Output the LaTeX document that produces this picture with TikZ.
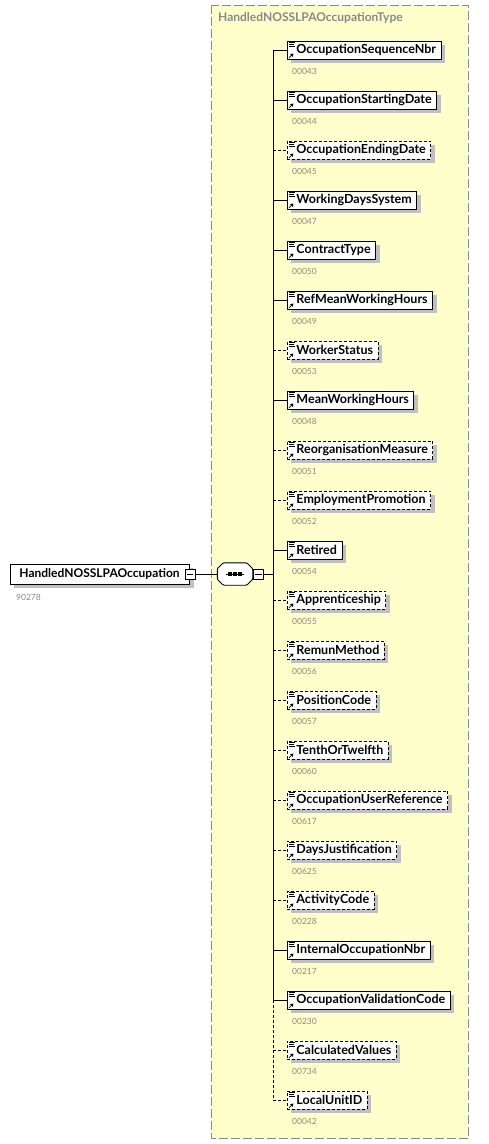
\documentclass[tikz,border=0pt]{standalone}
\usepackage{fontspec}
\setmainfont{Lato}
\usetikzlibrary{arrows.meta,positioning,shadows}
\definecolor{yc}{RGB}{255,255,204}
\definecolor{sc}{RGB}{192,192,192}
\definecolor{gc}{RGB}{136,136,136}
\definecolor{cc}{RGB}{145,137,122}
\tikzset{el/.style={draw,fill=white,line width=.9pt,minimum height=18pt,inner xsep=0pt,inner ysep=0pt,anchor=west,
  font=\bfseries\fontsize{12.5}{14}\selectfont,copy shadow={shadow xshift=4pt,shadow yshift=-4pt,fill=sc,draw=none}},
 req/.style={},opt/.style={dash pattern=on 3pt off 2pt},
 mb/.style={draw,fill=white,line width=.8pt,minimum size=10pt,inner sep=0pt},
 sq/.style={minimum width=35pt,minimum height=22pt,inner sep=0pt},
 wire/.style={line width=.9pt},ico/.style={line width=.7pt},
 code/.style={anchor=west,inner sep=0pt,text=cc,font=\fontsize{8.5}{10}\selectfont}}
\begin{document}
\begin{tikzpicture}[x=1pt,y=-1pt]
\useasboundingbox (0,0) rectangle (489,1144);
\draw[fill=yc,draw=gc,line width=1pt,dash pattern=on 9pt off 3pt] (211.5,5) rectangle (468,1138);
\node[anchor=west,inner sep=0pt,text=gc,font=\bfseries\fontsize{12}{14}\selectfont] (ttl) at (218,18) {HandledNOSSLPAOccupationType};
\node[el,minimum height=20pt,font=\bfseries\fontsize{12}{14}\selectfont] (root) at (10,574) {\kern9pt HandledNOSSLPAOccupation\kern10pt};
\node[code] (rc) at (16,597) {90278};
\node[mb] (rm) at (root.east) {};
\draw[wire] ([xshift=2pt]rm.west) -- ([xshift=-2pt]rm.east);
\node[sq] (seq) at (235,574) {};
\fill[sc,shift={(4,4)}] ([xshift=6pt]seq.north west) -- ([xshift=-6pt]seq.north east) -- ([yshift=-6pt]seq.north east)
  -- ([yshift=6pt]seq.south east) -- ([xshift=-6pt]seq.south east) -- ([xshift=6pt]seq.south west)
  -- ([yshift=6pt]seq.south west) -- ([yshift=-6pt]seq.north west) -- cycle;
\draw[wire,fill=white,rounded corners=1pt] ([xshift=6pt]seq.north west) -- ([xshift=-6pt]seq.north east) -- ([yshift=-6pt]seq.north east)
  -- ([yshift=6pt]seq.south east) -- ([xshift=-6pt]seq.south east) -- ([xshift=6pt]seq.south west)
  -- ([yshift=6pt]seq.south west) -- ([yshift=-6pt]seq.north west) -- cycle;
\node[mb,anchor=west] (sm) at (seq.east) {};
\draw[wire] ([xshift=2pt]sm.west) -- ([xshift=-2pt]sm.east);
\draw[wire] ([xshift=-9pt]seq.center) -- ([xshift=9pt]seq.center);
\foreach \k in {-5,0,5} \fill ([xshift=\k pt]seq.center) +(-1.6,-1.6) rectangle +(1.6,1.6);
\coordinate (tm) at (273,574);
\draw[wire] (rm) -- (seq);
\draw[wire] (sm) -- (tm);
\foreach \n/\c/\s [count=\i] in {OccupationSequenceNbr/00043/req,OccupationStartingDate/00044/req,
  OccupationEndingDate/00045/opt,WorkingDaysSystem/00047/req,ContractType/00050/req,RefMeanWorkingHours/00049/req,
  WorkerStatus/00053/opt,MeanWorkingHours/00048/req,ReorganisationMeasure/00051/opt,EmploymentPromotion/00052/opt,
  Retired/00054/req,Apprenticeship/00055/opt,RemunMethod/00056/opt,PositionCode/00057/opt,TenthOrTwelfth/00060/opt,
  OccupationUserReference/00617/opt,DaysJustification/00625/opt,ActivityCode/00228/opt,InternalOccupationNbr/00217/req,
  OccupationValidationCode/00230/req,CalculatedValues/00734/opt,LocalUnitID/00042/opt}{
\pgfmathsetmacro\y{50*\i}
\coordinate (t\i) at (273,\y);
\node[el,\s] (e\i) at (287,\y) {\kern9pt\n\kern5pt};
\node[code] (c\i) at (292,\y+21) {\c};
\draw[wire,\s] (t\i) -- (e\i);
\draw[ico] ([shift={(2,2)}]e\i.north west) -- +(6,0) ([shift={(2,4)}]e\i.north west) -- +(5,0) ([shift={(2,6)}]e\i.north west) -- +(6,0);
\draw[ico,-{Triangle[length=3pt,width=3.5pt]}] ([shift={(2,-1.5)}]e\i.south west) -- +(4.5,-4.5);
}
\draw[wire] (t1) -- (t20);
\draw[wire,opt] (t20) -- (t22);
\end{tikzpicture}
\end{document}
